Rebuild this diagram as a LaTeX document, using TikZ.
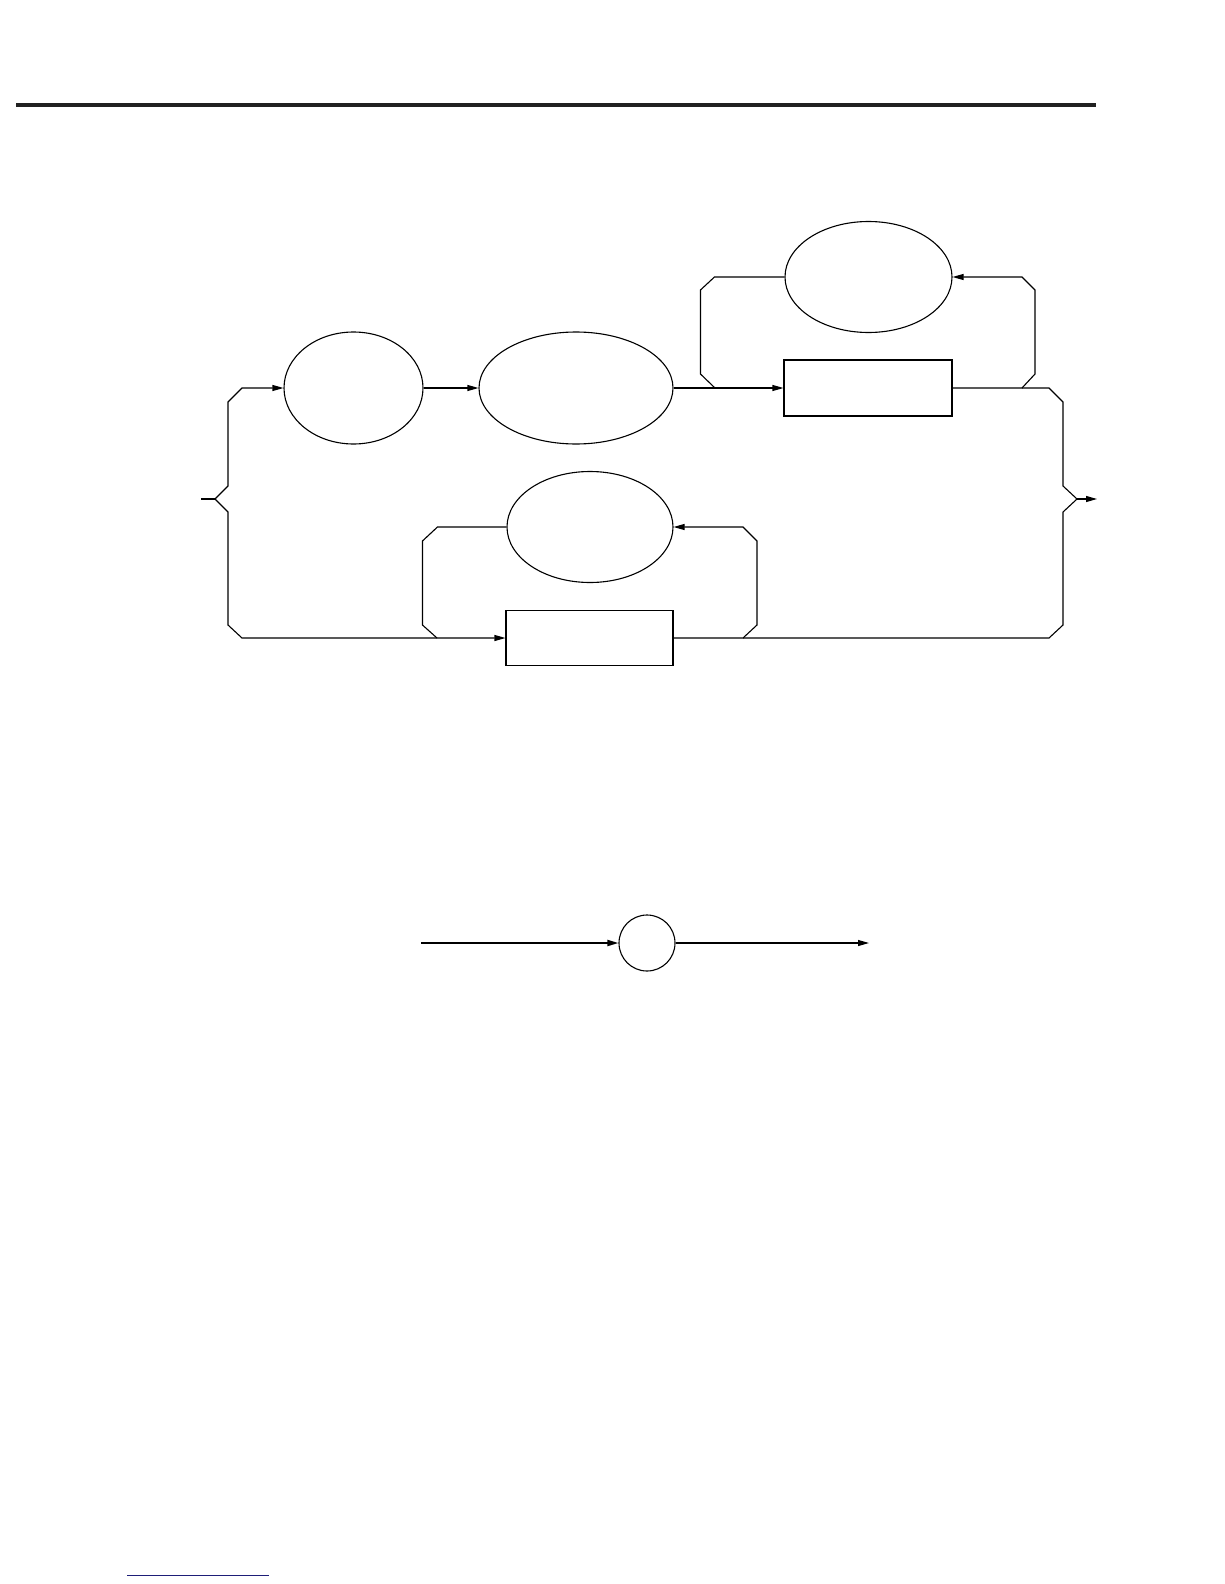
\documentclass[tikz,border=0pt]{standalone}
\usetikzlibrary{shapes.geometric,arrows.meta}
\definecolor{rulegray}{gray}{0.13}
\definecolor{navyline}{RGB}{30,30,120}
\begin{document}
\begin{tikzpicture}[x=1pt,y=-1pt,line width=1.1pt,
  arr/.style={-{Triangle[length=11pt,width=6pt]}},
  ell/.style={draw,ellipse,inner sep=0pt},
  boxnode/.style={draw,rectangle,inner sep=0pt}]
\useasboundingbox (0,0) rectangle (1224,1584);
\fill[white] (0,0) rectangle (1224,1584);
% top rule
\coordinate (r0) at (16,105);
\coordinate (r1) at (1096,105);
\draw[line width=4pt,rulegray] (r0) -- (r1);
% nodes
\node[ell,minimum width=139pt,minimum height=112pt] (A) at (353.5,388) {};
\node[ell,minimum width=194pt,minimum height=112pt] (B) at (576,388) {};
\node[ell,minimum width=167pt,minimum height=111pt] (E) at (868.5,277) {};
\node[boxnode,minimum width=168pt,minimum height=56pt] (F) at (868,388) {};
\node[ell,minimum width=166pt,minimum height=111pt] (D) at (590,527) {};
\node[boxnode,minimum width=167pt,minimum height=55pt] (C) at (589.5,638) {};
% junctions
\coordinate (in) at (201,499);
\coordinate (fork) at (215,499);
\coordinate (join) at (1077,499);
\coordinate (out) at (1097,499);
\coordinate (jL) at (437,638);
\coordinate (jR) at (743,638);
\coordinate (jL2) at (715,388);
\coordinate (jR2) at (1022,388);
% entry and fork
\draw (in) -- (fork);
\draw[arr] (fork) -- ++(13,-13) -- ++(0,-84) -- ++(14,-14) -- (A.west);
\draw[arr] (fork) -- ++(13,13) -- ++(0,113) -- ++(14,13) -- (C.west);
\draw[arr] (A.east) -- (B.west);
\draw[arr] (B.east) -- (F.west);
% top loop
\draw (E.west) -- ++(-70,0) -- ++(-14,13) -- ++(0,84) -- (jL2);
\draw[arr] (F.east) -- (jR2) -- ++(13,-14) -- ++(0,-84) -- ++(-13,-13) -- (E.east);
\draw (jR2) -- ++(27,0) -- ++(14,14) -- ++(0,84) -- (join);
% bottom loop
\draw (D.west) -- ++(-69,0) -- ++(-15,14) -- ++(0,84) -- (jL);
\draw[arr] (C.east) -- (jR) -- ++(14,-13) -- ++(0,-84) -- ++(-14,-14) -- (D.east);
\draw (jR) -- ++(306,0) -- ++(14,-13) -- ++(0,-113) -- (join);
\draw[arr] (join) -- (out);
% small diagram
\node[draw,circle,minimum size=56pt,inner sep=0pt] (G) at (647,943) {};
\coordinate (s0) at (421,943);
\coordinate (s1) at (869,943);
\draw[arr,line width=1.8pt] (s0) -- (G.west);
\draw[arr] (G.east) -- (s1);
% bottom link underline
\coordinate (u0) at (127,1575);
\coordinate (u1) at (269,1575);
\draw[navyline,line width=1pt] (u0) -- (u1);
\end{tikzpicture}
\end{document}
